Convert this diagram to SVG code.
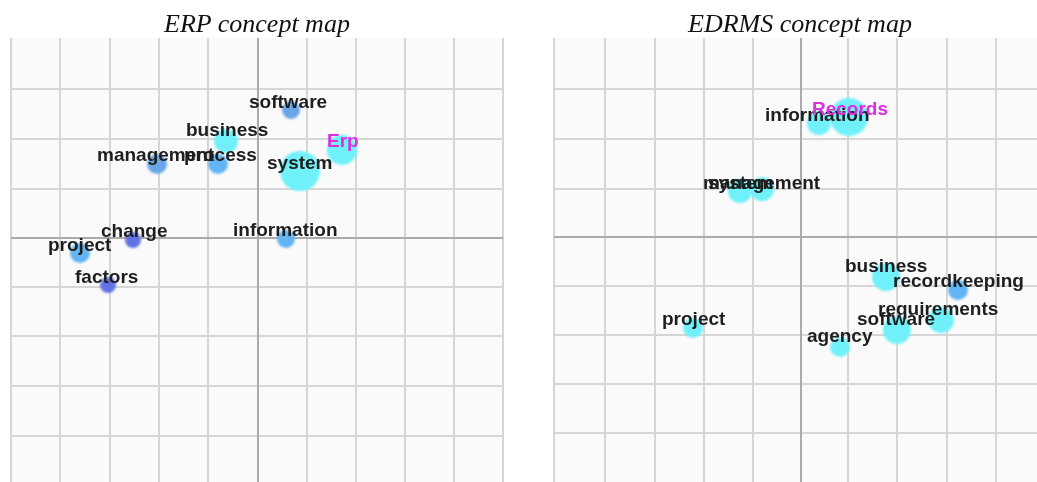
<svg xmlns="http://www.w3.org/2000/svg" width="1037" height="482" viewBox="0 0 1037 482">
  <defs>
    <filter id="soft" x="-30%" y="-30%" width="160%" height="160%">
      <feGaussianBlur stdDeviation="1.2"/>
    </filter>
    <style>
      .title { font-family: "Liberation Serif", "Times New Roman", serif; font-style: italic; font-size: 26px; fill: #111; text-anchor: middle; }
      .bg { fill: #fafafa; }
      .grid { stroke: #d6d6d6; stroke-width: 2; fill: none; }
      .axis { stroke: #ababab; stroke-width: 2; fill: none; }
      .nodes { isolation: isolate; }
      .lbl { font-family: "Liberation Sans", Arial, sans-serif; font-weight: bold; font-size: 19px; fill: #1e1e1e; }
      .hot { fill: #dd2ee0; }
      circle { mix-blend-mode: darken; filter: url(#soft); }
      .cyan { fill: #70f1f9; }
      .blue { fill: #62b4f2; }
      .sky { fill: #6aa6e6; }
      .violet { fill: #6272e2; }
    </style>
  </defs>

  <rect width="1037" height="482" fill="#ffffff"/>

  <!-- titles -->
  <text class="title" x="257" y="32">ERP concept map</text>
  <text class="title" x="800" y="32">EDRMS concept map</text>

  <!-- ERP map frame -->
  <g id="erp-grid">
    <rect class="bg" x="11" y="38" width="492" height="444"/>
    <path class="grid" d="M11 38V482M60 38V482M110 38V482M159 38V482M208 38V482M307 38V482M356 38V482M405 38V482M454 38V482M503 38V482"/>
    <path class="grid" d="M11 89H503M11 139H503M11 189H503M11 287H503M11 336H503M11 386H503M11 436H503"/>
    <path class="axis" d="M258 38V482M11 238H503"/>
  </g>

  <!-- EDRMS map frame -->
  <g id="edrms-grid">
    <rect class="bg" x="554" y="38" width="483" height="444"/>
    <path class="grid" d="M554 38V482M605 38V482M655 38V482M704 38V482M753 38V482M848 38V482M897 38V482M947 38V482M996 38V482"/>
    <path class="grid" d="M554 89H1037M554 139H1037M554 189H1037M554 286H1037M554 335H1037M554 384H1037M554 433H1037"/>
    <path class="axis" d="M801 38V482M554 237H1037"/>
  </g>

  <g id="connectors"></g>

  <!-- ERP concepts -->
  <g class="nodes" id="erp-nodes">
    <g id="erp-software"><circle class="sky" cx="291" cy="110" r="9"/><text class="lbl" x="249" y="108">software</text></g>
    <g id="erp-business"><circle class="cyan" cx="226" cy="141" r="12"/><text class="lbl" x="186" y="136">business</text></g>
    <g id="erp-management"><circle class="sky" cx="157" cy="164" r="10"/><text class="lbl" x="97" y="161">management</text></g>
    <g id="erp-process"><circle class="blue" cx="218" cy="164" r="10"/><text class="lbl" x="184" y="161">process</text></g>
    <g id="erp-system"><circle class="cyan" cx="300" cy="171" r="20"/><text class="lbl" x="267" y="169">system</text></g>
    <g id="erp-erp"><circle class="cyan" cx="342" cy="150" r="15"/><text class="lbl hot" x="327" y="147">Erp</text></g>
    <g id="erp-information"><circle class="blue" cx="286" cy="239" r="9"/><text class="lbl" x="233" y="236">information</text></g>
    <g id="erp-change"><circle class="violet" cx="133" cy="240" r="8"/><text class="lbl" x="101" y="237">change</text></g>
    <g id="erp-project"><circle class="blue" cx="80" cy="253" r="10"/><text class="lbl" x="48" y="251">project</text></g>
    <g id="erp-factors"><circle class="violet" cx="108" cy="285" r="8"/><text class="lbl" x="75" y="283">factors</text></g>
  </g>

  <!-- EDRMS concepts -->
  <g class="nodes" id="edrms-nodes">
    <g id="edrms-information"><circle class="cyan" cx="819" cy="123" r="12"/><text class="lbl" x="765" y="121">information</text></g>
    <g id="edrms-records"><circle class="cyan" cx="849" cy="117" r="19"/><text class="lbl hot" x="812" y="115">Records</text></g>
    <g id="edrms-management"><circle class="cyan" cx="740" cy="191" r="12"/><text class="lbl" x="703" y="189">management</text></g>
    <g id="edrms-system"><circle class="cyan" cx="762" cy="189" r="12"/><text class="lbl" x="708" y="189">system</text></g>
    <g id="edrms-business"><circle class="cyan" cx="886" cy="277" r="14"/><text class="lbl" x="845" y="272">business</text></g>
    <g id="edrms-recordkeeping"><circle class="blue" cx="958" cy="290" r="10"/><text class="lbl" x="893" y="287">recordkeeping</text></g>
    <g id="edrms-requirements"><circle class="cyan" cx="941" cy="320" r="13"/><text class="lbl" x="878" y="315">requirements</text></g>
    <g id="edrms-software"><circle class="cyan" cx="897" cy="330" r="14"/><text class="lbl" x="857" y="325">software</text></g>
    <g id="edrms-agency"><circle class="cyan" cx="840" cy="347" r="10"/><text class="lbl" x="807" y="342">agency</text></g>
    <g id="edrms-project"><circle class="cyan" cx="693" cy="328" r="10"/><text class="lbl" x="662" y="325">project</text></g>
  </g>
</svg>
